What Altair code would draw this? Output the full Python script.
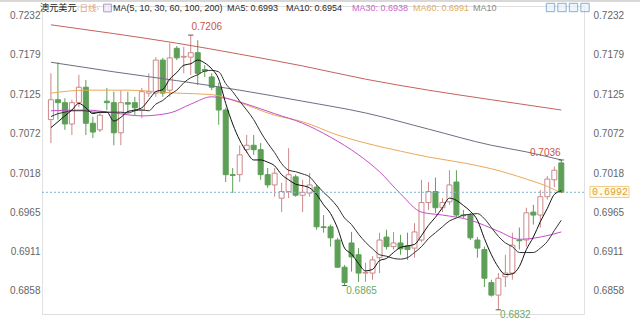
import altair as alt
import pandas as pd

# ---------------- data ----------------
idx = list(range(1, 75))
open_ = [0.7091,0.7118,0.7114,0.7085,0.7114,0.7135,0.7086,0.7077,0.7116,0.7114,
         0.7073,0.7114,0.7114,0.7104,0.7127,0.7127,0.7172,0.7131,0.7188,0.7176,
         0.7176,0.7182,0.7159,0.7149,0.7135,0.7104,0.7016,0.7016,0.7050,0.7056,
         0.7050,0.7016,0.7002,0.6984,0.6993,0.7013,0.6988,0.6991,0.6999,0.6945,
         0.6945,0.6927,0.6890,0.6923,0.6907,0.6882,0.6882,0.6903,0.6931,0.6918,
         0.6923,0.6919,0.6916,0.6927,0.6978,0.6993,0.6971,0.6979,0.7006,0.6961,
         0.6961,0.6927,0.6914,0.6869,0.6852,0.6877,0.6882,0.6927,0.6927,0.6965,
         0.6961,0.6986,0.7009,0.7032]
high = [0.7154,0.7169,0.7120,0.7118,0.7152,0.7145,0.7095,0.7100,0.7134,0.7129,
        0.7131,0.7129,0.7122,0.7134,0.7154,0.7176,0.7175,0.7195,0.7191,0.7190,
        0.7206,0.7199,0.7165,0.7154,0.7141,0.7107,0.7025,0.7056,0.7070,0.7070,
        0.7059,0.7025,0.7025,0.7005,0.7052,0.7016,0.7009,0.7018,0.7002,0.6961,
        0.6948,0.6930,0.6893,0.6938,0.6916,0.6896,0.6905,0.6937,0.6941,0.6938,
        0.6934,0.6937,0.6950,0.7009,0.7006,0.7012,0.6984,0.7022,0.7022,0.6968,
        0.6964,0.6931,0.6918,0.6873,0.6882,0.6907,0.6937,0.6944,0.6971,0.6975,
        0.6995,0.7014,0.7027,0.7036]
low = [0.7059,0.7091,0.7077,0.7070,0.7108,0.7070,0.7066,0.7074,0.7104,0.7056,
       0.7056,0.7100,0.7097,0.7093,0.7122,0.7122,0.7122,0.7122,0.7172,0.7154,
       0.7152,0.7138,0.7149,0.7131,0.7084,0.7006,0.6991,0.7006,0.7046,0.7043,
       0.7009,0.6998,0.6986,0.6965,0.6984,0.6986,0.6965,0.6986,0.6941,0.6937,
       0.6918,0.6889,0.6865,0.6884,0.6870,0.6870,0.6873,0.6882,0.6914,0.6914,
       0.6907,0.6900,0.6903,0.6924,0.6968,0.6964,0.6965,0.6975,0.6958,0.6957,
       0.6927,0.6903,0.6863,0.6850,0.6832,0.6863,0.6873,0.6914,0.6918,0.6948,
       0.6944,0.6982,0.6999,0.6991]
close = [0.7118,0.7114,0.7085,0.7114,0.7135,0.7086,0.7074,0.7097,0.7114,0.7073,
         0.7114,0.7112,0.7107,0.7129,0.7129,0.7172,0.7127,0.7175,0.7175,0.7177,
         0.7182,0.7154,0.7157,0.7135,0.7104,0.7016,0.7015,0.7043,0.7056,0.7050,
         0.7016,0.7002,0.7018,0.6993,0.7016,0.6988,0.6992,0.7002,0.6945,0.6944,
         0.6930,0.6890,0.6869,0.6904,0.6882,0.6883,0.6900,0.6927,0.6918,0.6923,
         0.6915,0.6914,0.6938,0.6978,0.6993,0.6971,0.6978,0.7002,0.6961,0.6960,
         0.6930,0.6916,0.6875,0.6852,0.6875,0.6882,0.6920,0.6926,0.6964,0.6961,
         0.6986,0.7010,0.7022,0.6992]

ma5 = [0.7080,0.7088,0.7096,0.7104,0.7113,0.7107,0.7099,0.7101,0.7101,0.7089,
       0.7094,0.7102,0.7104,0.7107,0.7118,0.7129,0.7132,0.7146,0.7155,0.7165,
       0.7167,0.7172,0.7168,0.7160,0.7146,0.7113,0.7085,0.7063,0.7047,0.7036,
       0.7036,0.7033,0.7028,0.7016,0.7009,0.7003,0.7001,0.6998,0.6989,0.6975,
       0.6963,0.6943,0.6916,0.6908,0.6895,0.6885,0.6887,0.6899,0.6902,0.6910,
       0.6917,0.6919,0.6921,0.6933,0.6947,0.6958,0.6971,0.6984,0.6981,0.6974,
       0.6966,0.6954,0.6929,0.6907,0.6890,0.6880,0.6881,0.6891,0.6914,0.6931,
       0.6952,0.6970,0.6989,0.6994]
ma10 = [0.7095,0.7099,0.7101,0.7103,0.7103,0.7103,0.7101,0.7101,0.7101,0.7101,
        0.7101,0.7100,0.7103,0.7104,0.7103,0.7112,0.7117,0.7125,0.7131,0.7141,
        0.7148,0.7152,0.7157,0.7158,0.7156,0.7140,0.7129,0.7116,0.7104,0.7091,
        0.7074,0.7059,0.7046,0.7031,0.7022,0.7020,0.7017,0.7013,0.7002,0.6992,
        0.6983,0.6972,0.6957,0.6948,0.6935,0.6924,0.6915,0.6907,0.6905,0.6902,
        0.6901,0.6903,0.6910,0.6918,0.6929,0.6937,0.6945,0.6953,0.6957,0.6961,
        0.6962,0.6963,0.6956,0.6944,0.6932,0.6923,0.6918,0.6910,0.6910,0.6910,
        0.6916,0.6925,0.6940,0.6954]

ma30_idx = [1,6,10,14,18,21,24,26,29,33,37,41,45,48,51,54,57,61,65,68,71,74]
ma30_val = [0.7103,0.7104,0.7100,0.7096,0.7100,0.7112,0.7122,0.7120,0.7112,0.7099,
            0.7086,0.7067,0.7043,0.7020,0.6990,0.6965,0.6961,0.6954,0.6939,0.6928,
            0.6931,0.6938]
ma60_idx = [1,6,12,19,24,28,33,37,42,46,51,55,60,64,69,72,74]
ma60_val = [0.7127,0.7131,0.7131,0.7127,0.7125,0.7114,0.7097,0.7088,0.7070,0.7059,
            0.7048,0.7040,0.7032,0.7024,0.7010,0.7000,0.6991]
ma100_idx = [1,10,19,28,37,46,55,64,69,74]
ma100_val = [0.7169,0.7156,0.7144,0.7131,0.7116,0.7100,0.7078,0.7056,0.7047,0.7036]
ma200_idx = [1,10,19,28,37,46,55,64,74]
ma200_val = [0.7220,0.7208,0.7195,0.7180,0.7164,0.7146,0.7131,0.7118,0.7104]

y_ticks = [0.7232, 0.7179, 0.7125, 0.7072, 0.7018, 0.6965, 0.6911, 0.6858]
legend_vals = {"MA5": 0.6993, "MA10": 0.6954, "MA30": 0.6938, "MA60": 0.6991}

# ---------------- layout / style ----------------
W, H = 542, 308
xs = alt.Scale(domain=[0.44, 76.53], nice=False, zero=False)
ys = alt.Scale(domain=[0.68263, 0.72456], nice=False, zero=False)
UP = "#cc8888"
DOWN = "#5d9f57"
AX_FONT = "Liberation Sans"
MONO = "Liberation Mono"

df = pd.DataFrame({"i": idx, "o": open_, "h": high, "l": low, "c": close})
df["up"] = df["c"] >= df["o"]
df["top"] = df[["o", "c"]].max(axis=1)
df["bot"] = df[["o", "c"]].min(axis=1)

X = alt.X("i:Q", scale=xs, axis=None)

def axis(orient, pad):
    return alt.Axis(orient=orient, values=y_ticks, format=".4f", title=None,
                    ticks=False, grid=False, labelColor="#666666",
                    labelFontSize=10, labelFont=AX_FONT, labelPadding=pad,
                    domainColor="#e2e2e2")

wicks = alt.Chart(df).mark_rule(strokeWidth=1).encode(
    x=X,
    y=alt.Y("h:Q", scale=ys, axis=axis("left", 2)),
    y2="l:Q",
    color=alt.condition("datum.up", alt.value(UP), alt.value(DOWN)),
)
bodies = alt.Chart(df).mark_bar(size=5, strokeWidth=1).encode(
    x=X,
    y=alt.Y("top:Q", scale=ys, axis=axis("right", 9)),
    y2="bot:Q",
    fill=alt.condition("datum.up", alt.value("white"), alt.value(DOWN)),
    stroke=alt.condition("datum.up", alt.value(UP), alt.value(DOWN)),
)

def line(ix, vals, color, interp="monotone", width=1):
    d = pd.DataFrame({"i": ix, "v": vals})
    return alt.Chart(d).mark_line(color=color, strokeWidth=width,
                                  interpolate=interp).encode(
        x=X, y=alt.Y("v:Q", scale=ys, axis=None))

l200 = line(ma200_idx, ma200_val, "#c4625c")
l100 = line(ma100_idx, ma100_val, "#6e6e82")
l60 = line(ma60_idx, ma60_val, "#eaa95c")
l30 = line(ma30_idx, ma30_val, "#c450c8")
l10 = line(idx, ma10, "#333333")
l5 = line(idx, ma5, "#111111")

last = pd.DataFrame({"p": [close[-1]]})
price_rule = alt.Chart(last).mark_rule(strokeDash=[2, 2], color="#7fb3cc",
                                       strokeWidth=1).encode(
    y=alt.Y("p:Q", scale=ys, axis=None), x=alt.value(0), x2=alt.value(W))
price_box = alt.Chart(last).transform_calculate(
    t="datum.p + 0.0008", b="datum.p - 0.0007").mark_rect(
    fill="#fffbe8", stroke="#f0cc80", strokeWidth=1).encode(
    y=alt.Y("t:Q", scale=ys, axis=None), y2="b:Q",
    x=alt.value(W + 6), x2=alt.value(W + 45))
price_txt = alt.Chart(last).transform_calculate(
    s="format(datum.p, '.4f')").mark_text(
    align="left", baseline="middle", font=MONO, fontSize=10,
    color="#d9a040").encode(
    y=alt.Y("p:Q", scale=ys, axis=None), x=alt.value(W + 8), text="s:N")

# extreme labels
hi_i = high.index(max(high)); lo_i = low.index(min(low))
lo2_i = 42  # local low 0.6865 (candle 43)
ext = pd.DataFrame({
    "i": [idx[hi_i], idx[-1], idx[lo2_i], idx[lo_i]],
    "v": [high[hi_i], high[-1], low[lo2_i], low[lo_i]],
})
ext["s"] = ext["v"].map(lambda v: f"{v:.4f}")
marks = alt.Chart(ext).mark_point(shape="stroke", size=30, color="#222222",
                                  strokeWidth=1, filled=False).encode(
    x=X, y=alt.Y("v:Q", scale=ys, axis=None))

def ext_text(row, color, dx, dy):
    d = ext.iloc[[row]]
    return alt.Chart(d).mark_text(
        font=AX_FONT, fontSize=10, color=color, dx=dx, dy=dy).encode(
        x=X, y=alt.Y("v:Q", scale=ys, axis=None), text="s:N")

t1 = ext_text(0, "#c8554c", 16, -8)
t2 = ext_text(1, "#c8554c", -16, -7)
t3 = ext_text(2, "#6aa862", 17, 5)
t4 = ext_text(3, "#6aa862", 17, 5)

# header text
def txt(s, x, color, font, size, weight="normal"):
    return alt.Chart(pd.DataFrame({"t": [s]})).mark_text(
        align="left", baseline="middle", font=font, fontSize=size,
        color=color, fontWeight=weight).encode(
        x=alt.value(x), y=alt.value(2), text="t:N")

HF = "Liberation Sans"
hdr = [
    txt("澳元美元", -2, "#222222", "Noto Sans CJK SC", 9.2),
    txt("‹日线›", 35, "#e8a070", "Noto Sans CJK SC", 8.5),
    txt("MA(5, 10, 30, 60, 100, 200)", 71, "#2a2a2a", HF, 9),
    txt("MA5: %.4f" % legend_vals["MA5"], 185, "#2a2a2a", HF, 9),
    txt("MA10: %.4f" % legend_vals["MA10"], 244, "#2a2a2a", HF, 9),
    txt("MA30: %.4f" % legend_vals["MA30"], 310, "#cc66cc", HF, 9),
    txt("MA60: %.4f" % legend_vals["MA60"], 371, "#e4ac60", HF, 9),
    txt("MA10", 431, "#8a8a8a", HF, 9),
]
one = pd.DataFrame({"a": [0]})
icons = [alt.Chart(one).mark_square(size=70, fill="#e9f1f9", stroke="#5a8fc0",
                                    strokeWidth=1).encode(
    x=alt.value(px), y=alt.value(1.5)) for px in [508.5, 520, 531.5, 543]]
icon0 = alt.Chart(one).mark_square(size=60, fill="#eee6f4", stroke="#8a6fb0",
                                   strokeWidth=1).encode(x=alt.value(65.5), y=alt.value(2))
topbar = alt.Chart(one).mark_rule(color="#d8d8d8", strokeWidth=2).encode(
    x=alt.value(-42), x2=alt.value(W + 56), y=alt.value(-5))

chart = alt.layer(
    wicks, bodies, l200, l100, l60, l30, l10, l5,
    price_rule, price_box, price_txt, marks, t1, t2, t3, t4,
    *hdr, icon0, *icons, topbar,
).resolve_axis(y="independent").properties(
    width=W, height=H,
    padding={"left": 42, "top": 6, "right": 56, "bottom": 6},
    autosize=alt.AutoSizeParams(type="none"),
).configure_view(stroke=None).configure(background="white")

chart.save("out.html", embed_options={"renderer": "svg", "actions": False})
